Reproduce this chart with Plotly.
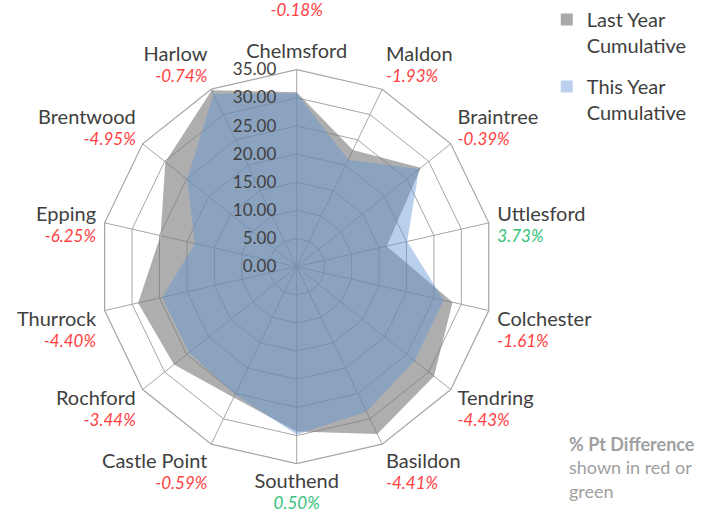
import plotly.graph_objects as go

categories = ["Chelmsford", "Maldon", "Braintree", "Uttlesford", "Colchester", "Tendring",
              "Basildon", "Southend", "Castle Point", "Rochford", "Thurrock", "Epping",
              "Brentwood", "Harlow"]
last_year = [31.00, 23.00, 28.20, 16.40, 28.40, 31.20, 33.00, 29.30, 25.80, 27.90, 28.90, 24.80, 29.85, 34.80]
this_year = [30.82, 21.07, 27.81, 20.13, 26.79, 26.77, 28.59, 29.80, 25.21, 24.46, 24.50, 18.55, 24.90, 34.06]
pct_diff = [-0.18, -1.93, -0.39, 3.73, -1.61, -4.43, -4.41, 0.50, -0.59, -3.44, -4.40, -6.25, -4.95, -0.74]
radial_ticks = [0, 5, 10, 15, 20, 25, 30, 35]

RED = "#FF3F3F"
GREEN = "#33C27A"
FONT = "Lato, 'Open Sans', sans-serif"

# labels on the left/right sides sit a little lower in the original
side_labels = {"Uttlesford", "Colchester", "Thurrock", "Epping"}

ticktext = []
for name, d in zip(categories, pct_diff):
    col = GREEN if d > 0 else RED
    pct = f'<span style="color:{col};font-size:17px"><i>{d:.2f}%</i></span>'
    nm = f'<span style="font-size:20px">{name}</span>'
    if name == "Chelmsford":
        ticktext.append(pct + "<br><br>" + nm)
    elif name in side_labels:
        ticktext.append("\u00a0<br>" + nm + "<br>" + pct)
    else:
        ticktext.append(nm + "<br>" + pct)

closed_cats = categories + categories[:1]

fig = go.Figure()
fig.add_trace(go.Scatterpolar(
    r=last_year + last_year[:1], theta=closed_cats, mode="none", fill="toself",
    fillcolor="rgba(120,120,120,0.6)", showlegend=False, hoverinfo="skip"))
fig.add_trace(go.Scatterpolar(
    r=this_year + this_year[:1], theta=closed_cats, mode="none", fill="toself",
    fillcolor="rgba(100,150,215,0.45)", showlegend=False, hoverinfo="skip"))

# legend-only entries
fig.add_trace(go.Scatterpolar(r=[None], theta=[categories[0]], mode="markers",
                              marker=dict(symbol="square", size=12, color="#A9A9A9"),
                              name="Last Year<br>Cumulative", legendgroup="ly"))
fig.add_trace(go.Scatterpolar(r=[None], theta=[categories[0]], mode="markers",
                              marker=dict(symbol="square", size=12, color="#B9D0EE"),
                              name="This Year<br>Cumulative", legendgroup="ty"))

grid_col = "#A6A6A6"
fig.update_layout(
    width=711, height=522,
    margin=dict(l=0, r=0, t=0, b=0),
    paper_bgcolor="white",
    font=dict(family=FONT, color="#404040"),
    polar=dict(
        domain=dict(x=[0.1402, 0.6944], y=[0.1117, 0.8665]),
        bgcolor="white",
        gridshape="linear",
        angularaxis=dict(
            type="category", categoryarray=categories,
            tickmode="array", tickvals=categories, ticktext=ticktext,
            direction="clockwise", rotation=90,
            showgrid=True, gridcolor=grid_col, gridwidth=1.2,
            showline=True, linecolor=grid_col, linewidth=1.2,
            ticks="outside", ticklen=5, tickcolor="rgba(0,0,0,0)",
            tickfont=dict(size=16, color="#404040", family=FONT),
        ),
        radialaxis=dict(
            range=[0, 35], tickmode="array", tickvals=radial_ticks,
            tickformat=".2f", angle=90, tickangle=90, side="counterclockwise",
            showgrid=True, gridcolor=grid_col, gridwidth=1.2,
            showline=False, ticks="outside", ticklen=14, tickcolor="rgba(0,0,0,0)",
            tickfont=dict(size=17, color="#404040", family=FONT),
        ),
    ),
    legend=dict(x=0.769, y=1.0, xanchor="left", yanchor="top", valign="top",
                font=dict(size=20, color="#404040", family=FONT),
                tracegroupgap=12, itemwidth=30, bgcolor="rgba(0,0,0,0)"),
    annotations=[dict(
        text="<b>% Pt Difference</b><br>shown in red or<br>green",
        x=0.797, y=0.175, xref="paper", yref="paper", xanchor="left", yanchor="top",
        align="left", showarrow=False, font=dict(size=18, color="#A0A0A0", family=FONT))],
)

fig.write_html("out.html", config={"displayModeBar": False},
               post_script="document.body.style.margin='0';")
